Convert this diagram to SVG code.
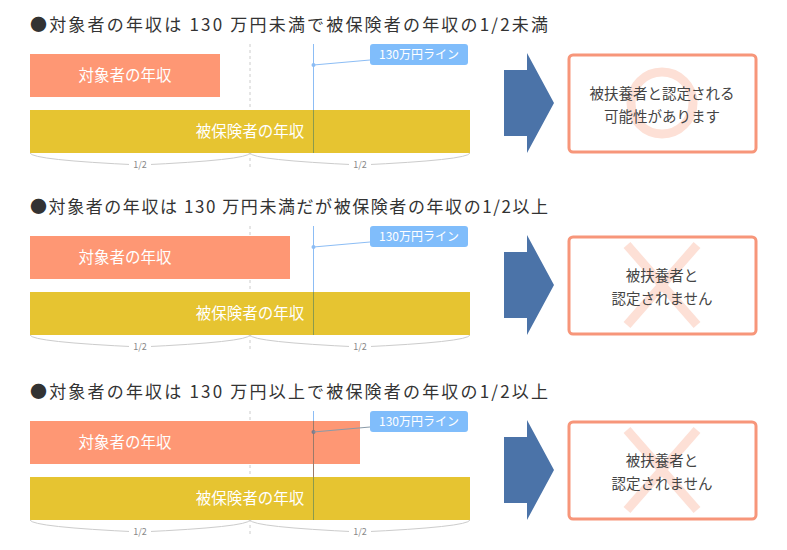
<svg xmlns="http://www.w3.org/2000/svg" width="787" height="550" viewBox="0 0 787 550">
<style>
text{font-family:"Noto Sans CJK JP","Noto Sans",sans-serif}
.t{font-size:17px;fill:#333}
.bl{font-size:15.5px;fill:#fff;text-anchor:middle}
.h{font-size:9px;fill:#888;text-anchor:middle}
.lb{font-size:12px;fill:#fff;text-anchor:middle}
.bx{fill:#fff;stroke:#f7967a;stroke-width:3}
.r{font-size:14.5px;fill:#444;text-anchor:middle}
.br{fill:none;stroke:#ccc;stroke-width:1}
</style>
<rect width="787" height="550" fill="#fff"/>
<g id="s1">
<text class="t" x="30" y="31" textLength="518" lengthAdjust="spacing">●対象者の年収は 130 万円未満で被保険者の年収の1/2未満</text>
<line x1="250" y1="44" x2="250" y2="168" stroke="#ccc" stroke-dasharray="3,3"/>
<rect x="30" y="54" width="190" height="43" fill="#fe9774"/>
<text class="bl" x="125" y="81">対象者の年収</text>
<rect x="30" y="110" width="440" height="43" fill="#e6c431"/>
<text class="bl" x="250" y="137">被保険者の年収</text>
<line x1="313.5" y1="44" x2="313.5" y2="110" stroke="#8cbdf5"/>
<line x1="313.5" y1="110" x2="313.5" y2="153" stroke="#8b9a4c"/>
<circle cx="313.5" cy="65" r="2" fill="#8cbdf5"/>
<line x1="313.5" y1="65" x2="370" y2="60" stroke="#8cbdf5"/>
<rect x="370" y="44" width="98" height="21" rx="3" fill="#80bdfb"/>
<text class="lb" x="419" y="59">130万円ライン</text>
<path class="br" d="M30,153 Q32,160 140,165 M250,153 Q248,160 140,165 M250,153 Q252,160 360,165 M470,153 Q468,160 360,165"/>
<rect x="129" y="159" width="22" height="10" fill="#fff"/><text class="h" x="140" y="168">1/2</text>
<rect x="349" y="159" width="22" height="10" fill="#fff"/><text class="h" x="360" y="168">1/2</text>
<path d="M504,70H527V53L554,103L527,153V136H504Z" fill="#4b73a8"/>
<rect class="bx" x="569" y="55" width="187" height="97" rx="4"/>
<circle cx="662" cy="103" r="31" fill="none" stroke="#fde0d6" stroke-width="9"/>
<text class="r" x="662" y="99">被扶養者と認定される</text>
<text class="r" x="662" y="122">可能性があります</text>
</g>
<g id="s2" transform="translate(0,182)">
<text class="t" x="30" y="31" textLength="518" lengthAdjust="spacing">●対象者の年収は 130 万円未満だが被保険者の年収の1/2以上</text>
<line x1="250" y1="44" x2="250" y2="168" stroke="#ccc" stroke-dasharray="3,3"/>
<rect x="30" y="54" width="260" height="43" fill="#fe9774"/>
<text class="bl" x="125" y="81">対象者の年収</text>
<rect x="30" y="110" width="440" height="43" fill="#e6c431"/>
<text class="bl" x="250" y="137">被保険者の年収</text>
<line x1="313.5" y1="44" x2="313.5" y2="110" stroke="#8cbdf5"/>
<line x1="313.5" y1="110" x2="313.5" y2="153" stroke="#8b9a4c"/>
<circle cx="313.5" cy="65" r="2" fill="#8cbdf5"/>
<line x1="313.5" y1="65" x2="370" y2="60" stroke="#8cbdf5"/>
<rect x="370" y="44" width="98" height="21" rx="3" fill="#80bdfb"/>
<text class="lb" x="419" y="59">130万円ライン</text>
<path class="br" d="M30,153 Q32,160 140,165 M250,153 Q248,160 140,165 M250,153 Q252,160 360,165 M470,153 Q468,160 360,165"/>
<rect x="129" y="159" width="22" height="10" fill="#fff"/><text class="h" x="140" y="168">1/2</text>
<rect x="349" y="159" width="22" height="10" fill="#fff"/><text class="h" x="360" y="168">1/2</text>
<path d="M504,70H527V53L554,103L527,153V136H504Z" fill="#4b73a8"/>
<rect class="bx" x="569" y="55" width="187" height="97" rx="4"/>
<path d="M627,63L697,143M697,63L627,143" stroke="#fde0d6" stroke-width="9"/>
<text class="r" x="662" y="99">被扶養者と</text>
<text class="r" x="662" y="122">認定されません</text>
</g>
<g id="s3" transform="translate(0,367)">
<text class="t" x="30" y="31" textLength="518" lengthAdjust="spacing">●対象者の年収は 130 万円以上で被保険者の年収の1/2以上</text>
<line x1="250" y1="44" x2="250" y2="168" stroke="#ccc" stroke-dasharray="3,3"/>
<line x1="313.5" y1="44" x2="313.5" y2="54" stroke="#8cbdf5"/>
<rect x="30" y="54" width="330" height="43" fill="#fe9774"/>
<text class="bl" x="125" y="81">対象者の年収</text>
<line x1="313.5" y1="54" x2="313.5" y2="110" stroke="#9b7a6a"/>
<rect x="30" y="110" width="440" height="43" fill="#e6c431"/>
<text class="bl" x="250" y="137">被保険者の年収</text>
<line x1="313.5" y1="110" x2="313.5" y2="153" stroke="#8b9a4c"/>
<circle cx="313.5" cy="65" r="2" fill="#7a7a8a"/>
<line x1="313.5" y1="65" x2="370" y2="60" stroke="#8a9aa8"/>
<rect x="370" y="44" width="98" height="21" rx="3" fill="#80bdfb"/>
<text class="lb" x="419" y="59">130万円ライン</text>
<path class="br" d="M30,153 Q32,160 140,165 M250,153 Q248,160 140,165 M250,153 Q252,160 360,165 M470,153 Q468,160 360,165"/>
<rect x="129" y="159" width="22" height="10" fill="#fff"/><text class="h" x="140" y="168">1/2</text>
<rect x="349" y="159" width="22" height="10" fill="#fff"/><text class="h" x="360" y="168">1/2</text>
<path d="M504,70H527V53L554,103L527,153V136H504Z" fill="#4b73a8"/>
<rect class="bx" x="569" y="55" width="187" height="97" rx="4"/>
<path d="M627,63L697,143M697,63L627,143" stroke="#fde0d6" stroke-width="9"/>
<text class="r" x="662" y="99">被扶養者と</text>
<text class="r" x="662" y="122">認定されません</text>
</g>
</svg>
